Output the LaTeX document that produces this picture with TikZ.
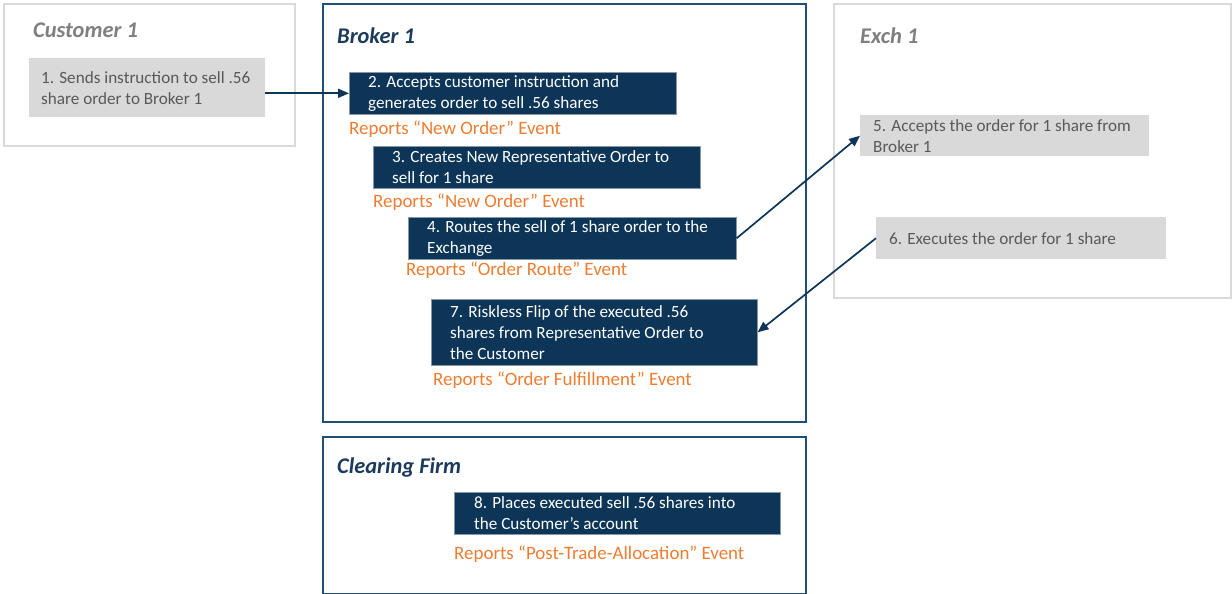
\documentclass[tikz,border=0pt]{standalone}
\usepackage{fontspec}
\setmainfont{Carlito}
\usetikzlibrary{arrows.meta}
\definecolor{navy}{HTML}{0D3558}
\definecolor{bborder}{HTML}{1F4E79}
\definecolor{ttlnavy}{HTML}{1B3A5C}
\definecolor{ltgray}{HTML}{D9D9D9}
\definecolor{ttlgray}{HTML}{7F7F7F}
\definecolor{txtgray}{HTML}{595959}
\definecolor{orng}{HTML}{ED7D31}
\tikzset{
  graypanel/.style={draw=ltgray, line width=2bp, anchor=north west, inner sep=0},
  navypanel/.style={draw=bborder, line width=2bp, anchor=north west, inner sep=0},
  graytitle/.style={anchor=west, inner sep=0, text=ttlgray, font=\fontsize{22.5}{26}\selectfont\bfseries\itshape},
  navytitle/.style={anchor=west, inner sep=0, text=ttlnavy, font=\fontsize{22.5}{26}\selectfont\bfseries\itshape},
  graybox/.style={fill=ltgray, draw=none, anchor=north west, inner sep=0},
  navybox/.style={fill=navy, draw=ltgray!60!navy, line width=0.6bp, anchor=north west, inner sep=0},
  graytext/.style={anchor=west, inner sep=0, align=left, text=txtgray, font=\fontsize{17.2}{21}\selectfont},
  whitetext/.style={anchor=west, inner sep=0, align=left, text=white, font=\fontsize{17.2}{21}\selectfont},
  reptext/.style={anchor=west, inner sep=0, text=orng, font=\fontsize{19}{22}\selectfont},
  flow/.style={draw=navy, line width=1.7bp, -{Triangle[length=11bp,width=9bp]}},
}
\begin{document}
\begin{tikzpicture}[x=1bp, y=-1bp]
\useasboundingbox[fill=white] (0,0) rectangle (1232,594);
% panels
\node[graypanel, minimum width=291bp, minimum height=142bp] (cust) at (3,3) {};
\node[navypanel, minimum width=483bp, minimum height=418bp] (brok) at (322,3) {};
\node[navypanel, minimum width=483bp, minimum height=157bp] (clr) at (322,436) {};
\node[graypanel, minimum width=397bp, minimum height=294bp] (exch) at (833,3) {};
% titles
\node[graytitle] (tcust) at (33,30) {Customer 1};
\node[navytitle] (tbrok) at (337,36) {Broker 1};
\node[navytitle] (tclr) at (337,468) {Clearing Firm};
\node[graytitle] (texch) at (860,36) {Exch 1};
% step 1
\node[graybox, minimum width=236bp, minimum height=59bp] (b1) at (29,58) {};
\node[graytext] (t1) at ([xshift=12bp]b1.west) {1. Sends instruction to sell .56\\share order to Broker 1};
% step 2
\node[navybox, minimum width=327bp, minimum height=42bp] (b2) at (349,72) {};
\node[whitetext] (t2) at ([xshift=19bp]b2.west) {2. Accepts customer instruction and\\generates order to sell .56 shares};
\node[reptext] (r2) at (349,129) {Reports “New Order” Event};
% step 3
\node[navybox, minimum width=327bp, minimum height=42bp] (b3) at (373,146) {};
\node[whitetext] (t3) at ([xshift=19bp]b3.west) {3. Creates New Representative Order to\\sell for 1 share};
\node[reptext] (r3) at (373,202) {Reports “New Order” Event};
% step 4
\node[navybox, minimum width=328bp, minimum height=42bp] (b4) at (408,217) {};
\node[whitetext] (t4) at ([xshift=19bp]b4.west) {4. Routes the sell of 1 share order to the\\Exchange};
\node[reptext] (r4) at (406,270) {Reports “Order Route” Event};
% step 7
\node[navybox, minimum width=326bp, minimum height=66bp] (b7) at (431,299) {};
\node[whitetext] (t7) at ([xshift=19bp]b7.west) {7. Riskless Flip of the executed .56\\shares from Representative Order to\\the Customer};
\node[reptext] (r7) at (433,380) {Reports “Order Fulfillment” Event};
% step 8
\node[navybox, minimum width=326bp, minimum height=42bp] (b8) at (454,492) {};
\node[whitetext] (t8) at ([xshift=20bp]b8.west) {8. Places executed sell .56 shares into\\the Customer’s account};
\node[reptext] (r8) at (454,554) {Reports “Post-Trade-Allocation” Event};
% step 5
\node[graybox, minimum width=289bp, minimum height=41bp] (b5) at (860,115) {};
\node[graytext] (t5) at ([xshift=13bp]b5.west) {5. Accepts the order for 1 share from\\Broker 1};
% step 6
\node[graybox, minimum width=290bp, minimum height=42bp] (b6) at (876,217) {};
\node[graytext] (t6) at ([xshift=13bp]b6.west) {6. Executes the order for 1 share};
% connectors
\draw[flow] (b1.east |- b2.west) -- (b2.west);
\draw[flow] (b4.east) -- (b5.west);
\draw[flow] (b6.west) -- (b7.east);
\end{tikzpicture}
\end{document}
